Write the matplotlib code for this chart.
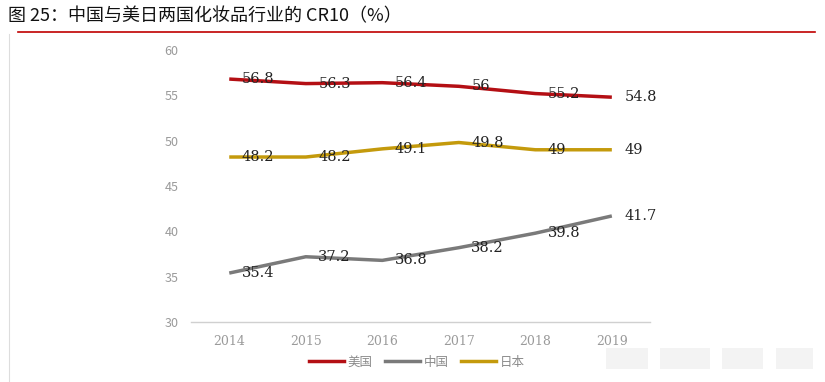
import matplotlib.pyplot as plt
from matplotlib.lines import Line2D
from matplotlib.patches import Rectangle

plt.rcParams['font.family'] = ['Noto Sans CJK SC', 'DejaVu Sans']

# data
years = ['2014', '2015', '2016', '2017', '2018', '2019']
usa = [56.8, 56.3, 56.4, 56.0, 55.2, 54.8]
china = [35.4, 37.2, 36.8, 38.2, 39.8, 41.7]
japan = [48.2, 48.2, 49.1, 49.8, 49.0, 49.0]
usa_labels = ['56.8', '56.3', '56.4', '56', '55.2', '54.8']
china_labels = ['35.4', '37.2', '36.8', '38.2', '39.8', '41.7']
japan_labels = ['48.2', '48.2', '49.1', '49.8', '49', '49']

red = '#B40F14'
gray = '#7A7A7A'
gold = '#C49A0C'

fig = plt.figure(figsize=(8.25, 3.82), dpi=100)
ax = fig.add_axes([0.2315, 0.157, 0.5565, 0.712])

x = list(range(len(years)))
series = [(usa, usa_labels, red, '美国'),
          (china, china_labels, gray, '中国'),
          (japan, japan_labels, gold, '日本')]
for vals, labs, col, name in series:
    ax.plot(x, vals, color=col, lw=2.5, solid_capstyle='butt', label=name)
    for xi, v, t in zip(x, vals, labs):
        ax.annotate(t, (xi, v), xytext=(9, 0), textcoords='offset points',
                    ha='left', va='center', fontsize=10.5, color='#222222',
                    family='DejaVu Serif')

ax.set_xlim(-0.5, len(years) - 0.5)
ax.set_ylim(30, 60)
ax.set_yticks(range(30, 61, 5))
ax.set_xticks(x)
ax.set_xticklabels(years, family='DejaVu Serif')
ax.tick_params(axis='both', length=0, colors='#9a9a9a', labelsize=9)
ax.tick_params(axis='y', pad=9)
ax.tick_params(axis='x', pad=9)
for s in ['top', 'right', 'left']:
    ax.spines[s].set_visible(False)
ax.spines['bottom'].set_color('#d0d0d0')
ax.spines['bottom'].set_linewidth(1)

handles = [Line2D([0], [0], color=c, lw=2.5) for _, _, c, _ in series]
fig.legend(handles, [n for *_, n in series], loc='center', bbox_to_anchor=(0.505, 0.052),
           ncol=3, frameon=False, fontsize=9, handlelength=2.8, columnspacing=1.0,
           handletextpad=0.3, labelcolor='#8a8a8a')

# title and rules
fig.text(0.01, 0.958, '图 25：中国与美日两国化妆品行业的 CR10（%）', fontsize=13,
         ha='left', va='center', color='#111111')
fig.add_artist(Line2D([0.022, 0.988], [0.916, 0.916], color='#C00000', lw=1.2))
fig.add_artist(Line2D([0.011, 0.011], [0.0, 0.91], color='#dddddd', lw=0.8))

# faint watermark blocks bottom right
for x0, w in [(0.735, 0.05), (0.80, 0.06), (0.875, 0.05), (0.94, 0.045)]:
    fig.add_artist(Rectangle((x0, 0.035), w, 0.055, transform=fig.transFigure,
                             color='#f3f3f3', lw=0))

fig.savefig('out.png', dpi=100)
